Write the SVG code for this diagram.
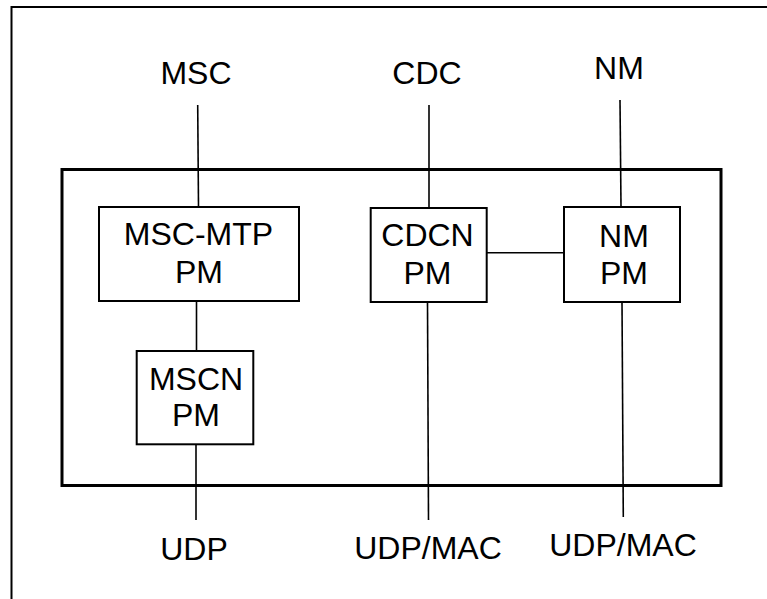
<svg xmlns="http://www.w3.org/2000/svg" width="767" height="599" viewBox="0 0 767 599">
<style>
.t{font-family:"Liberation Sans",Arial,sans-serif;font-size:32px;fill:#000;text-anchor:middle}
.box{fill:#fff;stroke:#000;stroke-width:2}
.c{stroke:#000;stroke-width:1.6;fill:none}
</style>
<rect width="767" height="599" fill="#fff"/>
<g id="frame"><rect x="11.5" y="7" width="800" height="700" fill="none" stroke="#000" stroke-width="2"/></g>
<g id="connectors">
<line class="c" x1="197.7" y1="105" x2="198.5" y2="207"/>
<line class="c" x1="429" y1="105" x2="429" y2="208"/>
<line class="c" x1="620" y1="100" x2="621" y2="207"/>
<line class="c" x1="196.5" y1="301" x2="196.5" y2="351"/>
<line class="c" x1="196" y1="444" x2="196" y2="520"/>
<line class="c" x1="427.5" y1="302" x2="428.5" y2="520"/>
<line class="c" x1="486.5" y1="252.7" x2="564" y2="252.7"/>
<line class="c" x1="622" y1="302" x2="623.3" y2="517"/>
</g>
<g id="system"><rect x="62" y="169.5" width="659" height="316" fill="none" stroke="#000" stroke-width="3"/></g>
<g id="msc"><text class="t" x="196" y="84">MSC</text></g>
<g id="cdc"><text class="t" x="427" y="84">CDC</text></g>
<g id="nm"><text class="t" x="619" y="79">NM</text></g>
<g id="msc-mtp-pm"><rect class="box" x="99" y="207" width="200" height="94"/><text class="t" x="198.5" y="245">MSC-MTP</text><text class="t" x="199" y="283">PM</text></g>
<g id="cdcn-pm"><rect class="box" x="370.7" y="208" width="116" height="94"/><text class="t" x="427.5" y="246">CDCN</text><text class="t" x="427.5" y="284">PM</text></g>
<g id="nm-pm"><rect class="box" x="564" y="207" width="116" height="95"/><text class="t" x="624" y="246.5">NM</text><text class="t" x="624" y="284">PM</text></g>
<g id="mscn-pm"><rect class="box" x="136.7" y="351" width="116.6" height="93.3"/><text class="t" x="196" y="390">MSCN</text><text class="t" x="196" y="425.5">PM</text></g>
<g id="udp"><text class="t" x="194" y="560">UDP</text></g>
<g id="udp-mac-1"><text class="t" x="428" y="558.5">UDP/MAC</text></g>
<g id="udp-mac-2"><text class="t" x="623" y="555.7">UDP/MAC</text></g>
</svg>
